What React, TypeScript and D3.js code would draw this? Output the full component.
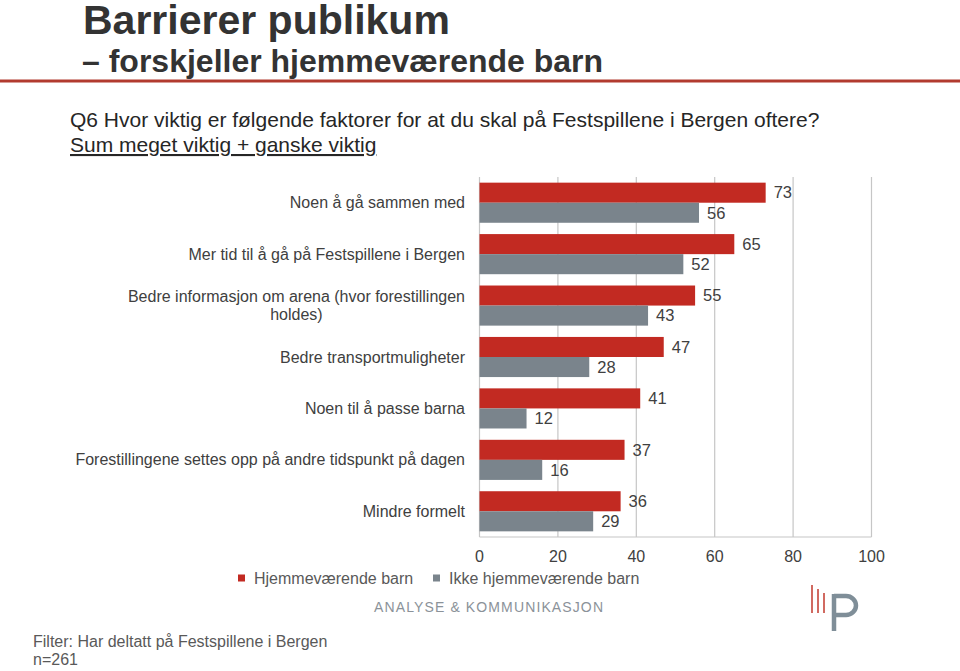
import React, { useEffect, useRef } from "react";
import * as d3 from "d3";

const categories: string[] = [
  "Noen å gå sammen med",
  "Mer tid til å gå på Festspillene i Bergen",
  "Bedre informasjon om arena (hvor forestillingen|holdes)",
  "Bedre transportmuligheter",
  "Noen til å passe barna",
  "Forestillingene settes opp på andre tidspunkt på dagen",
  "Mindre formelt",
];
const hjemmevaerende: number[] = [73, 65, 55, 47, 41, 37, 36];
const ikkeHjemmevaerende: number[] = [56, 52, 43, 28, 12, 16, 29];
const seriesNames: string[] = ["Hjemmeværende barn", "Ikke hjemmeværende barn"];
const xTicks: number[] = [0, 20, 40, 60, 80, 100];

const FONT = "'Liberation Sans', Arial, sans-serif";
const RED = "#c22a22";
const GRAY = "#7a848c";

export default function App() {
  const ref = useRef<SVGSVGElement | null>(null);

  useEffect(() => {
    const svg = d3.select(ref.current);
    svg.selectAll("*").remove();

    // Title block
    svg.append("text").attr("x", 83).attr("y", 34).attr("font-family", FONT)
      .attr("font-size", 41).attr("font-weight", "bold").attr("fill", "#333")
      .text("Barrierer publikum");
    svg.append("text").attr("x", 82).attr("y", 72).attr("font-family", FONT)
      .attr("font-size", 32).attr("font-weight", "bold").attr("fill", "#333")
      .text("– forskjeller hjemmeværende barn");
    svg.append("rect").attr("x", 0).attr("y", 79.5).attr("width", 960).attr("height", 3)
      .attr("fill", "#b23b2f");

    svg.append("text").attr("x", 70).attr("y", 127).attr("font-family", FONT)
      .attr("font-size", 21).attr("fill", "#262626")
      .text("Q6 Hvor viktig er følgende faktorer for at du skal på Festspillene i Bergen oftere?");
    svg.append("text").attr("x", 70).attr("y", 152).attr("font-family", FONT)
      .attr("font-size", 21).attr("fill", "#262626").attr("text-decoration", "underline")
      .text("Sum meget viktig + ganske viktig");

    // Chart
    const x = d3.scaleLinear().domain([0, 100]).range([479.5, 871.5]);
    const y = d3.scaleBand<string>().domain(categories).range([177, 537])
      .paddingInner(0.22).paddingOuter(0.11);
    const sub = d3.scaleBand<string>().domain(["h", "i"]).range([0, y.bandwidth()]);

    const g = svg.append("g");
    g.selectAll("line.grid").data(xTicks).join("line")
      .attr("x1", (d) => x(d)).attr("x2", (d) => x(d))
      .attr("y1", 177).attr("y2", 537)
      .attr("stroke", "#c6c6c6").attr("stroke-width", 1.2);
    g.append("line").attr("x1", x(0)).attr("x2", x(100)).attr("y1", 537).attr("y2", 537)
      .attr("stroke", "#c6c6c6").attr("stroke-width", 1.2);

    const groups = g.selectAll("g.cat").data(categories).join("g")
      .attr("transform", (d) => `translate(0,${y(d)})`);

    const series = [
      { key: "h", values: hjemmevaerende, color: RED },
      { key: "i", values: ikkeHjemmevaerende, color: GRAY },
    ];
    series.forEach((s) => {
      groups.append("rect")
        .attr("x", x(0))
        .attr("y", sub(s.key)!)
        .attr("width", (_d, i) => x(s.values[i]) - x(0))
        .attr("height", sub.bandwidth())
        .attr("fill", s.color);
      groups.append("text")
        .attr("x", (_d, i) => x(s.values[i]) + 8)
        .attr("y", sub(s.key)! + sub.bandwidth() / 2)
        .attr("dy", "0.35em")
        .attr("font-family", FONT).attr("font-size", 16.5).attr("fill", "#404040")
        .text((_d, i) => String(s.values[i]));
    });

    // Category labels
    const LBL = 16;
    groups.each(function (d) {
      const lines = d.split("|");
      const gg = d3.select(this);
      const cy = y.bandwidth() / 2;
      if (lines.length === 1) {
        gg.append("text").attr("x", 465).attr("y", cy).attr("dy", "0.35em")
          .attr("text-anchor", "end").attr("font-family", FONT).attr("font-size", LBL)
          .attr("fill", "#404040").text(lines[0]);
      } else {
        const t1 = gg.append("text").attr("x", 465).attr("y", cy - 9).attr("dy", "0.35em")
          .attr("text-anchor", "end").attr("font-family", FONT).attr("font-size", LBL)
          .attr("fill", "#404040").text(lines[0]);
        const w1 = (t1.node() as SVGTextElement).getComputedTextLength();
        gg.append("text").attr("x", 465 - w1 / 2).attr("y", cy + 9).attr("dy", "0.35em")
          .attr("text-anchor", "middle").attr("font-family", FONT).attr("font-size", LBL)
          .attr("fill", "#404040").text(lines[1]);
      }
    });

    // X tick labels
    g.selectAll("text.tick").data(xTicks).join("text")
      .attr("x", (d) => x(d)).attr("y", 556).attr("dy", "0.35em")
      .attr("text-anchor", "middle").attr("font-family", FONT).attr("font-size", 16)
      .attr("fill", "#404040").text((d) => String(d));

    // Legend
    const legendX = [238, 433];
    seriesNames.forEach((name, i) => {
      svg.append("rect").attr("x", legendX[i]).attr("y", 574.5).attr("width", 7).attr("height", 7)
        .attr("fill", i === 0 ? RED : GRAY);
      svg.append("text").attr("x", legendX[i] + 16).attr("y", 578).attr("dy", "0.35em")
        .attr("font-family", FONT).attr("font-size", 16).attr("fill", "#595959").text(name);
    });

    // Footer brand
    svg.append("text").attr("x", 374).attr("y", 607).attr("dy", "0.35em")
      .attr("font-family", FONT).attr("font-size", 14).attr("letter-spacing", 1)
      .attr("textLength", 230).attr("fill", "#8b9299").text("ANALYSE & KOMMUNIKASJON");

    const logo = svg.append("g");
    [[812, 585], [818, 589], [824, 593]].forEach(([lx, ly]) => {
      logo.append("line").attr("x1", lx).attr("x2", lx).attr("y1", ly).attr("y2", 613)
        .attr("stroke", "#cc5a50").attr("stroke-width", 1.8);
    });
    logo.append("line").attr("x1", 834).attr("x2", 834).attr("y1", 594).attr("y2", 631)
      .attr("stroke", "#7f8e98").attr("stroke-width", 4.5);
    logo.append("path")
      .attr("d", "M834,596 L846,596 A10,9.5 0 0 1 846,615 L834,615")
      .attr("fill", "none").attr("stroke", "#7f8e98").attr("stroke-width", 4.5);

    svg.append("text").attr("x", 33).attr("y", 641).attr("dy", "0.35em")
      .attr("font-family", FONT).attr("font-size", 16).attr("fill", "#595959")
      .text("Filter: Har deltatt på Festspillene i Bergen");
    svg.append("text").attr("x", 33).attr("y", 659).attr("dy", "0.35em")
      .attr("font-family", FONT).attr("font-size", 16).attr("fill", "#595959")
      .text("n=261");
  }, []);

  return (
    <svg
      ref={ref}
      width={960}
      height={671}
      style={{ position: "absolute", left: 0, top: 0, background: "#fff" }}
    />
  );
}
